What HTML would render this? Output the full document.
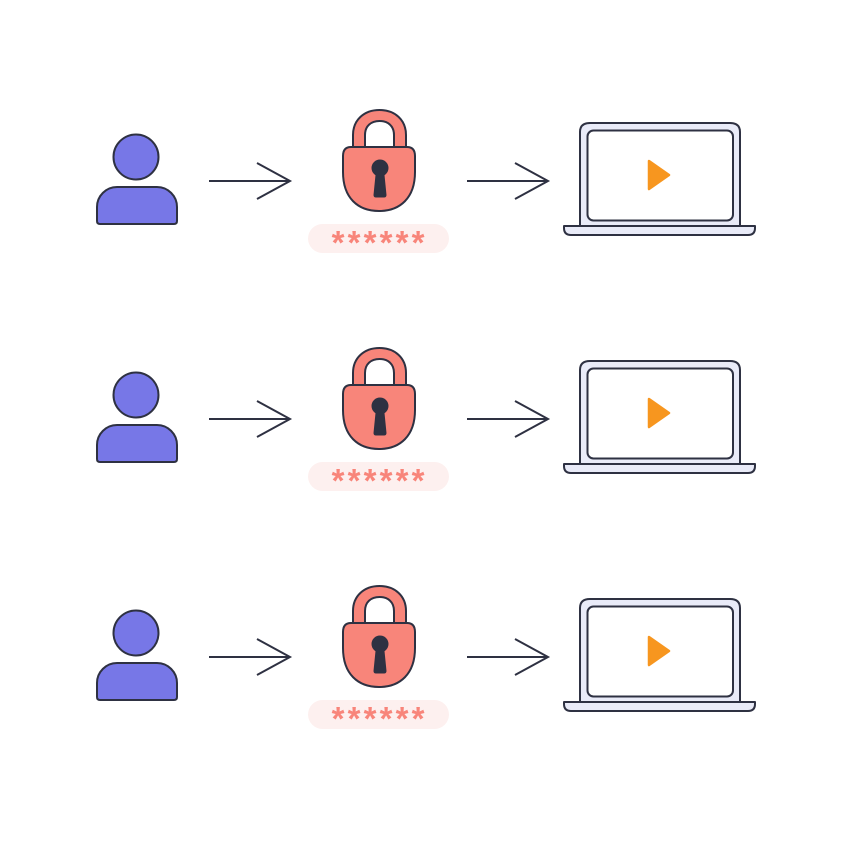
<!DOCTYPE html>
<html>
<head>
<meta charset="utf-8">
<style>
html,body{margin:0;padding:0;background:#fff;}
svg{display:block;}
</style>
</head>
<body>
<svg width="841" height="841" viewBox="0 0 841 841" xmlns="http://www.w3.org/2000/svg">
<defs>
<g id="row">
  <!-- person -->
  <circle cx="136" cy="157" r="22.5" fill="#7777e7" stroke="#2e3142" stroke-width="2"/>
  <path d="M97,221 V207 C97,196 106,187 117,187 H157 C168,187 177,196 177,207 V221 Q177,224 174,224 H100 Q97,224 97,221 Z" fill="#7777e7" stroke="#2e3142" stroke-width="2"/>
  <!-- arrow 1 -->
  <path d="M209,181 H290 M257,163 L290,181 L257,199" fill="none" stroke="#2e3142" stroke-width="2"/>
  <!-- lock -->
  <path d="M353,150 V135 C353,120 364,110 379.5,110 C395,110 406,120 406,135 V150 H394 V135 C394,126 388,121 379.5,121 C371,121 365,126 365,135 V150 Z" fill="#f8857a" stroke="#2e3142" stroke-width="2" stroke-linejoin="round"/>
  <path d="M351,147 H407 Q415,147 415,156 V172 C415,198 400,211 379,211 C358,211 343,198 343,172 V156 Q343,147 351,147 Z" fill="#f8857a" stroke="#2e3142" stroke-width="2"/>
  <circle cx="380" cy="168" r="8.5" fill="#2e3142"/>
  <path d="M376,170 L373.5,195 Q373.5,197.5 376,197.5 H384 Q386.5,197.5 386.5,195 L384,170 Z" fill="#2e3142"/>
  <!-- password pill -->
  <rect x="308" y="224" width="141" height="29" rx="14.5" fill="#fdf0ef"/>
  <g fill="#f8857a" font-family="Liberation Sans, sans-serif" font-weight="bold" font-size="33" text-anchor="middle">
    <text x="338" y="254">*</text>
    <text x="354" y="254">*</text>
    <text x="370" y="254">*</text>
    <text x="386" y="254">*</text>
    <text x="402" y="254">*</text>
    <text x="418" y="254">*</text>
  </g>
  <!-- arrow 2 -->
  <path d="M467,181 H548 M515,163 L548,181 L515,199" fill="none" stroke="#2e3142" stroke-width="2"/>
  <!-- laptop -->
  <path d="M580,227 V132 Q580,123 590,123 H730 Q740,123 740,132 V227 Z" fill="#e9ebf8" stroke="#2e3142" stroke-width="2"/>
  <rect x="587.5" y="130.5" width="145.5" height="90" rx="6" fill="#fff" stroke="#2e3142" stroke-width="2"/>
  <path d="M564,226 H755 V228 Q755,235 748,235 H571 Q564,235 564,228 Z" fill="#e9ebf8" stroke="#2e3142" stroke-width="2" stroke-linejoin="round"/>
  <path d="M649,161 L669,175 L649,189 Z" fill="#f7961f" stroke="#f7961f" stroke-width="2.5" stroke-linejoin="round"/>
</g>
</defs>
<use href="#row"/>
<use href="#row" transform="translate(0,238)"/>
<use href="#row" transform="translate(0,476)"/>
</svg>
</body>
</html>
